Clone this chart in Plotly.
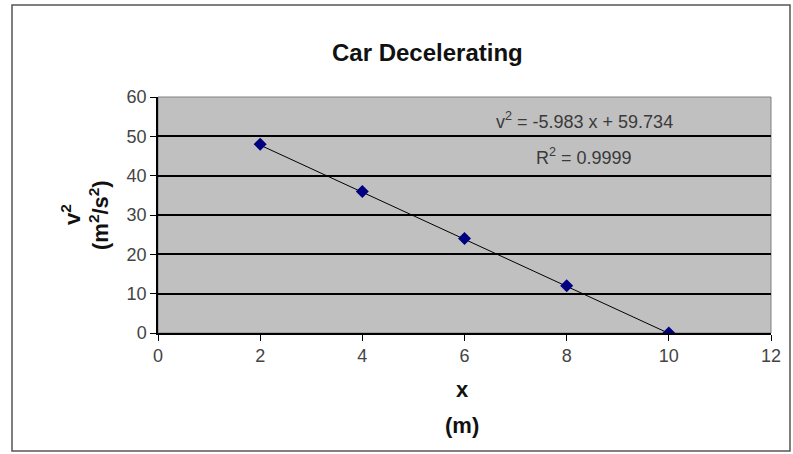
import plotly.graph_objects as go
import numpy as np

x_vals = [2, 4, 6, 8, 10]
v2_vals = [48, 36, 24, 12, 0]
slope = -5.983
intercept = 59.734
r2 = 0.9999
x_ticks = [0, 2, 4, 6, 8, 10, 12]
y_ticks = [0, 10, 20, 30, 40, 50, 60]

W, H = 793, 454
L, R, T, B = 158, 22, 97, 121
pw, ph = W - L - R, H - T - B

def px(xp):
    return (xp - L) / pw

def py(yp):
    return (H - B - yp) / ph

trend_x = np.array([min(x_vals), max(x_vals)], dtype=float)
trend_y = slope * trend_x + intercept

fig = go.Figure()
fig.add_trace(go.Scatter(x=trend_x, y=trend_y, mode="lines",
                         line=dict(color="black", width=1), showlegend=False,
                         hoverinfo="skip"))
fig.add_trace(go.Scatter(x=x_vals, y=v2_vals, mode="markers",
                         marker=dict(symbol="diamond", size=10, color="#000080",
                                     line=dict(width=0)),
                         showlegend=False))

font = "Liberation Sans, Arial, sans-serif"
tick_font = dict(size=18, color="#444444", family=font)
fig.update_layout(
    width=W, height=H,
    margin=dict(l=L, r=R, t=T, b=B),
    paper_bgcolor="white", plot_bgcolor="#c0c0c0",
    font=dict(family=font, size=18, color="#333333"),
    xaxis=dict(range=[0, 12], tickvals=x_ticks, ticks="outside", ticklen=6,
               tickcolor="black", showline=True, linecolor="black", linewidth=1.5,
               showgrid=False, zeroline=False, tickfont=tick_font),
    yaxis=dict(range=[0, 60], tickvals=y_ticks, ticks="outside", ticklen=6,
               tickcolor="black", showline=True, linecolor="black", linewidth=1.5,
               showgrid=True, gridcolor="black", gridwidth=1.5, zeroline=False,
               tickfont=tick_font),
    shapes=[
        dict(type="rect", xref="paper", yref="paper", x0=0, x1=1, y0=0, y1=1,
             line=dict(color="#808080", width=1), layer="below"),
        dict(type="rect", xref="paper", yref="paper", x0=px(12), x1=px(790),
             y0=py(5), y1=py(451), line=dict(color="#555555", width=1.5)),
    ],
    annotations=[
        dict(text="<b>Car Decelerating</b>", xref="paper", yref="paper", x=px(427), y=py(52),
             showarrow=False, font=dict(size=24, color="#111111", family=font),
             xanchor="center", yanchor="middle"),
        dict(text="v<sup>2</sup> = -5.983 x + 59.734", xref="paper", yref="paper",
             x=px(584), y=py(121), showarrow=False, xanchor="center", yanchor="middle",
             font=dict(size=18, color="#3a3a3a")),
        dict(text="R<sup>2</sup> = 0.9999", xref="paper", yref="paper",
             x=px(584), y=py(156), showarrow=False, xanchor="center", yanchor="middle",
             font=dict(size=18, color="#3a3a3a")),
        dict(text="<b>v<sup>2</sup></b>", xref="paper", yref="paper",
             x=px(71), y=py(215), showarrow=False, textangle=-90,
             xanchor="center", yanchor="middle", font=dict(size=22, color="#111111")),
        dict(text="<b>(m<sup>2</sup>/s<sup>2</sup>)</b>", xref="paper", yref="paper",
             x=px(99), y=py(215), showarrow=False, textangle=-90,
             xanchor="center", yanchor="middle", font=dict(size=22, color="#111111")),
        dict(text="<b>x</b>", xref="paper", yref="paper",
             x=px(462), y=py(389), showarrow=False,
             xanchor="center", yanchor="middle", font=dict(size=22, color="#111111")),
        dict(text="<b>(m)</b>", xref="paper", yref="paper",
             x=px(462), y=py(425), showarrow=False,
             xanchor="center", yanchor="middle", font=dict(size=22, color="#111111")),
    ],
)

fig.write_html("out.html", config={"displayModeBar": False},
               post_script="document.body.style.margin='0';document.body.style.padding='0';")
